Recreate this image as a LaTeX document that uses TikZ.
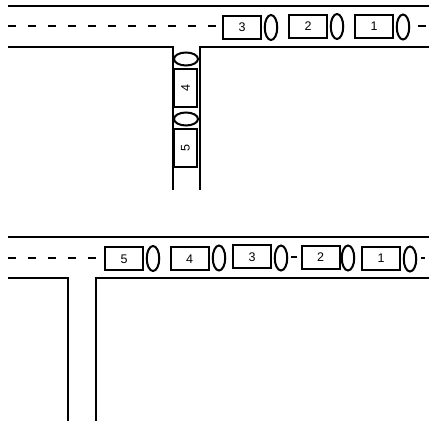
\documentclass[tikz,border=0pt]{standalone}
\usepackage{fontspec}
\setmainfont{Liberation Sans}
\usetikzlibrary{shapes.geometric}
\tikzset{
  carbox/.style={draw, line width=2pt, fill=white, inner sep=0pt, minimum width=38pt, minimum height=23pt, font=\fontsize{12.5}{13}\selectfont},
  sidebox/.style={draw, line width=2pt, fill=white, inner sep=0pt, minimum width=23pt, minimum height=38pt, font=\fontsize{12.5}{13}\selectfont},
  wheelv/.style={draw, ellipse, line width=2pt, inner sep=0pt, minimum width=12.5pt, minimum height=25pt},
  wheelh/.style={draw, ellipse, line width=2pt, inner sep=0pt, minimum width=24pt, minimum height=13pt},
  roadline/.style={line width=2pt},
  centerline/.style={line width=2pt, dash pattern=on 8pt off 12pt}
}
\begin{document}
\begin{tikzpicture}[x=1pt,y=-1pt]
  \useasboundingbox (0,0) rectangle (434,430);
  % upper junction
  \coordinate (UA) at (8,6);
  \coordinate (UB) at (429,6);
  \coordinate (UC) at (8,47);
  \coordinate (UD) at (173,47);
  \coordinate (UE) at (173,190);
  \coordinate (UF) at (429,47);
  \coordinate (UG) at (200,47);
  \coordinate (UH) at (200,190);
  \coordinate (UI) at (8,26.5);
  \coordinate (UJ) at (216,26.5);
  \coordinate (UK) at (418,26.5);
  \coordinate (UL) at (426,26.5);
  \draw[roadline] (UA) -- (UB);
  \draw[roadline] (UC) -- (UD) -- (UE);
  \draw[roadline] (UF) -- (UG) -- (UH);
  \draw[centerline] (UI) -- (UJ);
  \draw[roadline] (UK) -- (UL);
  \node[carbox] (u3) at (242,27.5) {3};
  \node[carbox] (u2) at (308,26.5) {2};
  \node[carbox] (u1) at (374,26.5) {1};
  \node[wheelv] (uw3) at (271,27.5) {};
  \node[wheelv] (uw2) at (337,26.5) {};
  \node[wheelv] (uw1) at (403,27) {};
  \node[wheelh] (uw4) at (186,59) {};
  \node[sidebox] (u4) at (185.5,88) {\rotatebox{90}{4}};
  \node[wheelh] (uw5) at (186,119) {};
  \node[sidebox] (u5) at (185.5,148) {\rotatebox{90}{5}};
  % lower junction
  \coordinate (LA) at (8,237.5);
  \coordinate (LB) at (429,237.5);
  \coordinate (LC) at (8,278);
  \coordinate (LD) at (68,278);
  \coordinate (LE) at (68,421);
  \coordinate (LF) at (429,278);
  \coordinate (LG) at (96,278);
  \coordinate (LH) at (96,421);
  \coordinate (LI) at (8,258);
  \coordinate (LJ) at (98,258);
  \coordinate (LK) at (291,257.5);
  \coordinate (LL) at (297,257.5);
  \coordinate (LM) at (421,258);
  \coordinate (LN) at (425,258);
  \draw[roadline] (LA) -- (LB);
  \draw[roadline] (LC) -- (LD) -- (LE);
  \draw[roadline] (LF) -- (LG) -- (LH);
  \draw[centerline] (LI) -- (LJ);
  \draw[roadline] (LK) -- (LL);
  \draw[roadline] (LM) -- (LN);
  \node[carbox] (l5) at (124,259) {5};
  \node[carbox] (l4) at (189.5,259) {4};
  \node[carbox] (l3) at (252,257) {3};
  \node[carbox] (l2) at (320.5,257.5) {2};
  \node[carbox] (l1) at (381,258.5) {1};
  \node[wheelv] (lw5) at (153,258.5) {};
  \node[wheelv] (lw4) at (219,258) {};
  \node[wheelv] (lw3) at (281,258) {};
  \node[wheelv] (lw2) at (348,258) {};
  \node[wheelv] (lw1) at (410,259) {};
\end{tikzpicture}
\end{document}
